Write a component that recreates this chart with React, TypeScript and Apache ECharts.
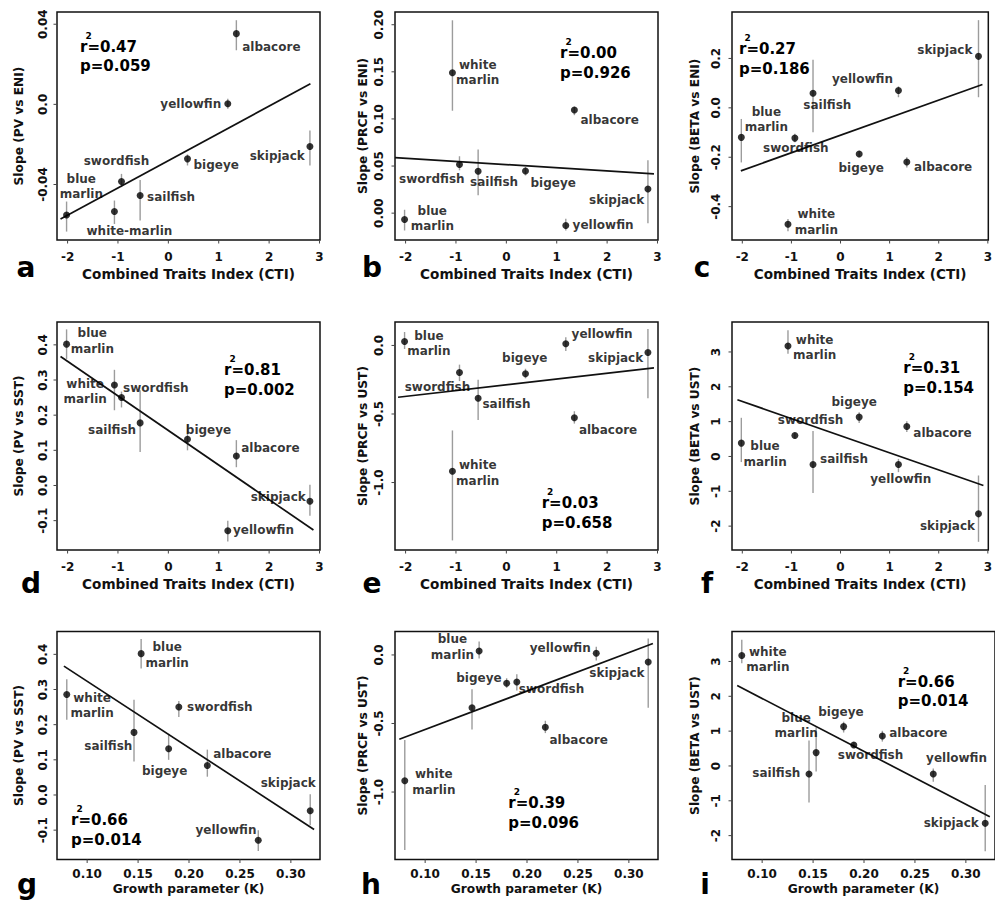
import React, { useEffect, useRef } from 'react';
import * as echarts from 'echarts';

// ---------------- data ----------------
const SPECIES = ['blue marlin', 'white marlin', 'swordfish', 'sailfish', 'bigeye', 'yellowfin', 'albacore', 'skipjack'];
const LABELS_DEFAULT = ['blue\nmarlin', 'white\nmarlin', 'swordfish', 'sailfish', 'bigeye', 'yellowfin', 'albacore', 'skipjack'];
const LABELS_A = ['blue\nmarlin', 'white-marlin', 'swordfish', 'sailfish', 'bigeye', 'yellowfin', 'albacore', 'skipjack'];
const LABELS_H = ['blue\nmarlin', 'white\nmarlin', 'swordfish', '', 'bigeye', 'yellowfin', 'albacore', 'skipjack'];

const CTI = [-2.02, -1.07, -0.93, -0.56, 0.38, 1.18, 1.35, 2.81];
const K = [0.153, 0.080, 0.190, 0.146, 0.180, 0.268, 0.218, 0.319];

const PV_ENI = [-0.0552, -0.0535, -0.0385, -0.0455, -0.0272, 0.0003, 0.0353, -0.021];
const PV_ENI_LO = [-0.0635, -0.0597, -0.0413, -0.058, -0.0305, -0.0022, 0.027, -0.0305];
const PV_ENI_HI = [-0.0485, -0.048, -0.0347, -0.0377, -0.025, 0.0028, 0.042, -0.013];

const PRCF_ENI = [-0.0067, 0.149, 0.0516, 0.0445, 0.0448, -0.0131, 0.1095, 0.0256];
const PRCF_ENI_LO = [-0.0184, 0.1087, 0.0455, 0.0189, 0.040, -0.0184, 0.104, -0.0107];
const PRCF_ENI_HI = [0.0036, 0.2047, 0.0604, 0.0676, 0.049, -0.006, 0.113, 0.0562];

const BETA_ENI = [-0.1195, -0.4715, -0.1225, 0.0594, -0.187, 0.0703, -0.2195, 0.2085];
const BETA_ENI_LO = [-0.221, -0.50, -0.139, -0.099, -0.2, 0.043, -0.241, 0.043];
const BETA_ENI_HI = [-0.045, -0.45, -0.105, 0.195, -0.174, 0.087, -0.2, 0.355];

const PV_SST = [0.402, 0.2857, 0.2505, 0.178, 0.1314, -0.1286, 0.0838, -0.0448];
const PV_SST_LO = [0.36, 0.214, 0.222, 0.095, 0.10, -0.159, 0.052, -0.086];
const PV_SST_HI = [0.444, 0.329, 0.267, 0.271, 0.174, -0.10, 0.129, 0.002];

const PRCF_UST = [0.029, -0.917, -0.1977, -0.385, -0.207, 0.0124, -0.527, -0.051];
const PRCF_UST_LO = [-0.026, -1.422, -0.26, -0.544, -0.24, -0.04, -0.57, -0.385];
const PRCF_UST_HI = [0.098, -0.62, -0.14, -0.251, -0.17, 0.06, -0.48, 0.12];

const BETA_UST = [0.383, 3.17, 0.603, -0.23, 1.13, -0.23, 0.862, -1.647];
const BETA_UST_LO = [-0.16, 2.95, 0.52, -1.05, 0.96, -0.45, 0.70, -2.45];
const BETA_UST_HI = [1.11, 3.62, 0.69, 0.73, 1.27, -0.07, 1.01, -0.546];

// regression lines: [x0, y0, x1, y1]
const LINE_A = [-2.14, -0.0572, 2.82, 0.0103];
const LINE_B = [-2.21, 0.059, 2.93, 0.0416];
const LINE_C = [-2.03, -0.255, 2.89, 0.0947];
const LINE_D = [-2.14, 0.3667, 2.88, -0.1267];
const LINE_E = [-2.15, -0.378, 2.93, -0.163];
const LINE_F = [-2.10, 1.629, 2.91, -0.833];
const LINE_G = [0.0772, 0.3666, 0.3228, -0.098];
const LINE_H = [0.0746, -0.615, 0.3236, 0.083];
const LINE_I = [0.0755, 2.31, 0.3235, -1.458];

const STATS = [
  ['0.47', '0.059'], ['0.00', '0.926'], ['0.27', '0.186'],
  ['0.81', '0.002'], ['0.03', '0.658'], ['0.31', '0.154'],
  ['0.66', '0.014'], ['0.39', '0.096'], ['0.66', '0.014'],
];

const CTI_RANGE = [-2.21, 3.01];
const K_RANGE = [0.0704, 0.3286];
const CTI_TICKS = [-2, -1, 0, 1, 2, 3];
const CTI_TICK_LABELS = ['-2', '-1', '0', '1', '2', '3'];
const K_TICKS = [0.10, 0.15, 0.20, 0.25, 0.30];
const K_TICK_LABELS = ['0.10', '0.15', '0.20', '0.25', '0.30'];

const Y_A_RANGE = [-0.0677, 0.0461];
const Y_A_TICKS = [-0.04, 0, 0.04];
const Y_A_LABELS = ['-0.04', '0.0', '0.04'];
const Y_B_RANGE = [-0.0285, 0.2135];
const Y_B_TICKS = [0, 0.05, 0.10, 0.15, 0.20];
const Y_B_LABELS = ['0.00', '0.05', '0.10', '0.15', '0.20'];
const Y_C_RANGE = [-0.535, 0.388];
const Y_C_TICKS = [-0.4, -0.2, 0, 0.2];
const Y_C_LABELS = ['-0.4', '-0.2', '0.0', '0.2'];
const Y_PV_RANGE = [-0.1835, 0.465];
const Y_PV_TICKS = [-0.1, 0, 0.1, 0.2, 0.3, 0.4];
const Y_PV_LABELS = ['-0.1', '0.0', '0.1', '0.2', '0.3', '0.4'];
const Y_PR_RANGE = [-1.492, 0.171];
const Y_PR_TICKS = [-1.0, -0.5, 0];
const Y_PR_LABELS = ['-1.0', '-0.5', '0.0'];
const Y_BU_RANGE = [-2.685, 3.86];
const Y_BU_TICKS = [-2, -1, 0, 1, 2, 3];
const Y_BU_LABELS = ['-2', '-1', '0', '1', '2', '3'];

// label offsets (px) from each point, order as SPECIES
const OFF_A = [[14.7, -28.3], [15, 19], [-5, -20], [31, 1], [28.7, 5.7], [-37, 0], [35, 13.3], [-32.7, 9.7]];
const OFF_B = [[27.7, -1], [25.3, -0.3], [-27.7, 14], [16, 10.7], [27.7, 11.7], [37.3, -0.7], [35.3, 10], [-31.3, 11.3]];
const OFF_C = [[25, -17.7], [28.3, -2.3], [1, 10], [14.3, 11.7], [2, 14], [-36, -11], [36.3, 5.3], [-33.7, -6.7]];
const OFF_D = [[25.7, -3], [-29.3, 6.7], [34.3, -9], [-28, 6.7], [21, -9.7], [35.7, -0.7], [34, -8.3], [-31.7, -4]];
const OFF_E = [[24.3, 2], [25.3, 2], [-22, 14.7], [28.3, 5.7], [-0.7, -15.7], [36.3, -9.7], [33.7, 12.3], [-32.3, 5.7]];
const OFF_F = [[23.7, 11], [26.7, 1.3], [15.7, -15.7], [31, -5.7], [-5, -15], [2.3, 14.3], [35.7, 6.7], [-31, 11.7]];
const OFF_G = [[26, 1.3], [25.3, 11], [41, 0], [-25.7, 14], [-4, 22.3], [-32.3, -10], [35, -11.7], [-22, -27.7]];
const OFF_H = [[-26.7, -4], [29, 1.3], [34.7, 7.3], [0, 0], [-27.7, -5.7], [-36, -5.3], [33.3, 12.7], [-31.3, 10.7]];
const OFF_I = [[-20, -27], [26, 4], [16.7, 10], [-32.7, -1], [-2.7, -15], [23.3, -16], [36, -2.7], [-34, 0]];

const PANELS = [
  { letter: 'a', x: CTI, y: PV_ENI, lo: PV_ENI_LO, hi: PV_ENI_HI, line: LINE_A, labels: LABELS_A, off: OFF_A, yr: Y_A_RANGE, yt: Y_A_TICKS, yl: Y_A_LABELS, yname: 'Slope (PV vs ENI)', kind: 'cti' },
  { letter: 'b', x: CTI, y: PRCF_ENI, lo: PRCF_ENI_LO, hi: PRCF_ENI_HI, line: LINE_B, labels: LABELS_DEFAULT, off: OFF_B, yr: Y_B_RANGE, yt: Y_B_TICKS, yl: Y_B_LABELS, yname: 'Slope (PRCF vs ENI)', kind: 'cti' },
  { letter: 'c', x: CTI, y: BETA_ENI, lo: BETA_ENI_LO, hi: BETA_ENI_HI, line: LINE_C, labels: LABELS_DEFAULT, off: OFF_C, yr: Y_C_RANGE, yt: Y_C_TICKS, yl: Y_C_LABELS, yname: 'Slope (BETA vs ENI)', kind: 'cti' },
  { letter: 'd', x: CTI, y: PV_SST, lo: PV_SST_LO, hi: PV_SST_HI, line: LINE_D, labels: LABELS_DEFAULT, off: OFF_D, yr: Y_PV_RANGE, yt: Y_PV_TICKS, yl: Y_PV_LABELS, yname: 'Slope (PV vs SST)', kind: 'cti' },
  { letter: 'e', x: CTI, y: PRCF_UST, lo: PRCF_UST_LO, hi: PRCF_UST_HI, line: LINE_E, labels: LABELS_DEFAULT, off: OFF_E, yr: Y_PR_RANGE, yt: Y_PR_TICKS, yl: Y_PR_LABELS, yname: 'Slope (PRCF vs UST)', kind: 'cti' },
  { letter: 'f', x: CTI, y: BETA_UST, lo: BETA_UST_LO, hi: BETA_UST_HI, line: LINE_F, labels: LABELS_DEFAULT, off: OFF_F, yr: Y_BU_RANGE, yt: Y_BU_TICKS, yl: Y_BU_LABELS, yname: 'Slope (BETA vs UST)', kind: 'cti' },
  { letter: 'g', x: K, y: PV_SST, lo: PV_SST_LO, hi: PV_SST_HI, line: LINE_G, labels: LABELS_DEFAULT, off: OFF_G, yr: Y_PV_RANGE, yt: Y_PV_TICKS, yl: Y_PV_LABELS, yname: 'Slope (PV vs SST)', kind: 'k' },
  { letter: 'h', x: K, y: PRCF_UST, lo: PRCF_UST_LO, hi: PRCF_UST_HI, line: LINE_H, labels: LABELS_H, off: OFF_H, yr: Y_PR_RANGE, yt: Y_PR_TICKS, yl: Y_PR_LABELS, yname: 'Slope (PRCF vs UST)', kind: 'k' },
  { letter: 'i', x: K, y: BETA_UST, lo: BETA_UST_LO, hi: BETA_UST_HI, line: LINE_I, labels: LABELS_DEFAULT, off: OFF_I, yr: Y_BU_RANGE, yt: Y_BU_TICKS, yl: Y_BU_LABELS, yname: 'Slope (BETA vs UST)', kind: 'k' },
];

// ---------------- layout ----------------
const FONT = '"DejaVu Sans", Verdana, sans-serif';
const COLS = [57, 395, 732];
const ROWS = [12, 322, 631.5];
const GW = 263;
const GH = 228;
const TICK_LEN = 3.5;
const Y_NAME_GAP = [32, 26, 31.5];
const Y_LABEL_MARGIN = [8.5, 10.5, 10.5];
const STAT_POS = [[80, 46.7], [560, 53.3], [739, 49.3], [224, 370], [541.7, 503.3], [903.3, 368.3], [71, 820], [508.3, 803.3], [897.7, 681.7]];
const LETTER_POS = [[26, 267.3], [372, 267.3], [702, 267.3], [31, 583.3], [372, 583.3], [707, 583.3], [27, 884], [371, 884], [705, 884]];

function fmt(values: number[], labels: string[]) {
  return (v: number) => {
    const i = values.findIndex((t) => Math.abs(t - v) < 1e-9);
    return i >= 0 ? labels[i] : '';
  };
}

function buildOption() {
  const grid: any[] = [];
  const xAxis: any[] = [];
  const yAxis: any[] = [];
  const series: any[] = [];
  const graphic: any[] = [];

  PANELS.forEach((p, idx) => {
    const col = idx % 3;
    const row = Math.floor(idx / 3);
    grid.push({
      left: COLS[col], top: ROWS[row], width: GW, height: GH,
      show: true, borderColor: '#111', borderWidth: 1.5, backgroundColor: 'transparent',
    });
    const isK = p.kind === 'k';
    const xt = isK ? K_TICKS : CTI_TICKS;
    const xl = isK ? K_TICK_LABELS : CTI_TICK_LABELS;
    const xr = isK ? K_RANGE : CTI_RANGE;
    xAxis.push({
      type: 'value', gridIndex: idx, min: xr[0], max: xr[1],
      name: isK ? 'Growth parameter (K)' : 'Combined Traits Index (CTI)',
      nameLocation: 'middle', nameGap: isK ? 23 : 26.5,
      nameTextStyle: { fontFamily: FONT, fontWeight: 'bold', fontSize: isK ? 12.2 : 13.6, color: '#111' },
      axisLine: { show: false },
      splitLine: { show: false },
      minorTick: { show: false },
      minorSplitLine: { show: false },
      splitArea: { show: false },
      axisPointer: { show: false },
      axisTick: { show: false },
      axisLabel: {
        show: true, customValues: xt, formatter: fmt(xt, xl), margin: row === 2 ? 8.7 : 10.7,
        fontFamily: FONT, fontWeight: 'bold', fontSize: 12, color: '#111',
      },
    });
    yAxis.push({
      type: 'value', gridIndex: idx, min: p.yr[0], max: p.yr[1],
      name: p.yname, nameLocation: 'middle', nameGap: Y_NAME_GAP[col], nameRotate: 90,
      nameTextStyle: { fontFamily: FONT, fontWeight: 'bold', fontSize: 12.2, color: '#111' },
      axisLine: { show: false },
      splitLine: { show: false },
      minorTick: { show: false },
      minorSplitLine: { show: false },
      splitArea: { show: false },
      axisPointer: { show: false },
      axisTick: { show: false },
      axisLabel: {
        show: true, customValues: p.yt, formatter: fmt(p.yt, p.yl), rotate: 90, margin: Y_LABEL_MARGIN[col],
        fontFamily: FONT, fontWeight: 'bold', fontSize: 12, color: '#111',
      },
    });

    // tick marks (outward), placed through the axes' scales
    series.push({
      type: 'custom', xAxisIndex: idx, yAxisIndex: idx, silent: true, clip: false, z: 1,
      data: xt.map((v) => [v, p.yr[0], 0]).concat(p.yt.map((v) => [xr[0], v, 1])),
      renderItem: (_params: any, api: any) => {
        const pt = api.coord([api.value(0), api.value(1)]);
        const vertical = api.value(2) === 0;
        return {
          type: 'line',
          shape: vertical
            ? { x1: pt[0], y1: pt[1], x2: pt[0], y2: pt[1] + TICK_LEN }
            : { x1: pt[0], y1: pt[1], x2: pt[0] - TICK_LEN, y2: pt[1] },
          style: { stroke: '#444', lineWidth: 1 },
        };
      },
    });

    // error bars
    series.push({
      type: 'custom', xAxisIndex: idx, yAxisIndex: idx, silent: true, z: 2,
      data: p.x.map((xv, i) => [xv, p.lo[i], p.hi[i]]),
      renderItem: (_params: any, api: any) => {
        const xv = api.value(0);
        const a = api.coord([xv, api.value(1)]);
        const b = api.coord([xv, api.value(2)]);
        return {
          type: 'line',
          shape: { x1: a[0], y1: a[1], x2: b[0], y2: b[1] },
          style: { stroke: '#9c9c9c', lineWidth: 1.4 },
        };
      },
    });

    // regression line
    series.push({
      type: 'line', xAxisIndex: idx, yAxisIndex: idx, silent: true, z: 3,
      data: [[p.line[0], p.line[1]], [p.line[2], p.line[3]]],
      symbol: 'none', lineStyle: { color: '#111', width: 1.7 },
    });

    // points + labels
    series.push({
      type: 'scatter', xAxisIndex: idx, yAxisIndex: idx, silent: true, z: 4,
      symbol: 'circle', symbolSize: 7,
      itemStyle: { color: '#000' },
      data: p.x.map((xv, i) => ({
        value: [xv, p.y[i]],
        name: SPECIES[i],
        label: {
          show: p.labels[i] !== '',
          formatter: p.labels[i],
          position: 'inside',
          offset: p.off[i],
          align: 'center',
          verticalAlign: 'middle',
          fontFamily: FONT, fontWeight: 'bold', fontSize: 12, lineHeight: 15.5,
          color: '#000', textBorderWidth: 0,
        },
      })),
    });

    // stats text
    const [sx, sy] = STAT_POS[idx];
    const st = { fontFamily: FONT, fontWeight: 'bold', fill: '#000', align: 'left', verticalAlign: 'middle' };
    graphic.push({ type: 'text', x: sx, y: sy, style: { ...st, text: 'r=' + STATS[idx][0], fontSize: 15 } });
    graphic.push({ type: 'text', x: sx + 8.5, y: sy - 11, style: { ...st, align: 'center', text: '2', fontSize: 9 } });
    graphic.push({ type: 'text', x: sx, y: sy + 19.5, style: { ...st, text: 'p=' + STATS[idx][1], fontSize: 15 } });

    // panel letter
    graphic.push({
      type: 'text', x: LETTER_POS[idx][0], y: LETTER_POS[idx][1],
      style: { text: p.letter, fontFamily: FONT, fontWeight: 'bold', fontSize: 28, fill: '#000', align: 'center', verticalAlign: 'middle' },
    });
  });

  return {
    animation: false,
    backgroundColor: '#ffffff',
    tooltip: { show: false },
    grid, xAxis, yAxis, series, graphic,
  };
}

export default function App() {
  const ref = useRef<HTMLDivElement>(null);
  useEffect(() => {
    if (!ref.current) return;
    const chart = echarts.init(ref.current, undefined, { renderer: 'svg' });
    chart.setOption(buildOption() as any);
    return () => chart.dispose();
  }, []);
  return (
    <div
      ref={ref}
      style={{ position: 'absolute', left: 0, top: 0, width: 995, height: 901, background: '#fff' }}
    />
  );
}
